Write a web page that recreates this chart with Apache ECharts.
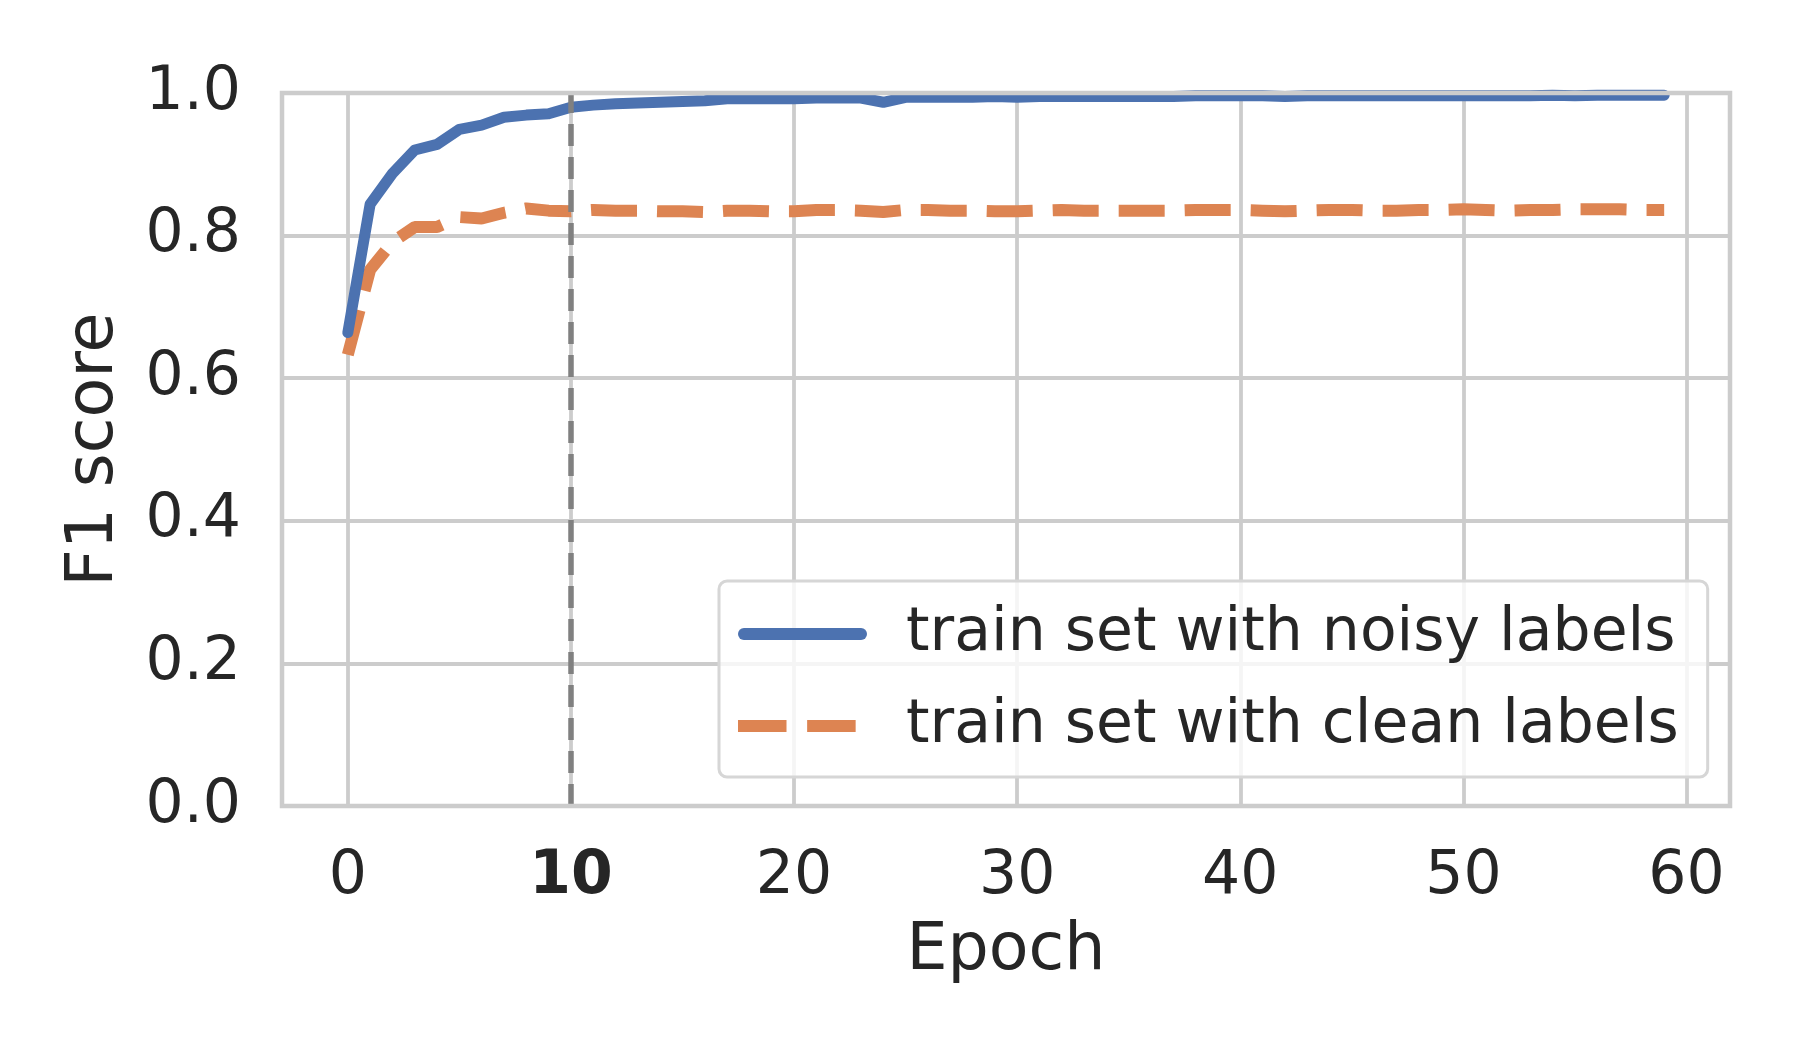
<!DOCTYPE html>
<html>
<head>
<meta charset="utf-8">
<script src="https://cdn.jsdelivr.net/npm/echarts@6/dist/echarts.min.js"></script>
<style>
  html, body { margin: 0; padding: 0; background: #fff; }
  #chart { width: 1800px; height: 1050px; }
</style>
</head>
<body>
<div id="chart"></div>
<script>
// F1 per epoch
const noisy = [
  0.664, 0.844, 0.887, 0.920, 0.928, 0.949, 0.955, 0.966, 0.969, 0.971,
  0.980, 0.983, 0.985, 0.986, 0.987, 0.988, 0.989, 0.992, 0.992, 0.992,
  0.992, 0.993, 0.993, 0.993, 0.987, 0.994, 0.994, 0.994, 0.994, 0.995,
  0.994, 0.995, 0.995, 0.995, 0.995, 0.995, 0.995, 0.995, 0.996, 0.996,
  0.996, 0.996, 0.995, 0.996, 0.996, 0.996, 0.996, 0.996, 0.996, 0.996,
  0.996, 0.996, 0.996, 0.996, 0.997, 0.996, 0.997, 0.997, 0.997, 0.997
];
const clean = [
  0.633, 0.752, 0.791, 0.812, 0.812, 0.826, 0.824, 0.832, 0.838, 0.835,
  0.834, 0.836, 0.835, 0.835, 0.834, 0.834, 0.833, 0.835, 0.835, 0.834,
  0.834, 0.836, 0.836, 0.835, 0.833, 0.836, 0.836, 0.835, 0.835, 0.834,
  0.834, 0.835, 0.836, 0.835, 0.835, 0.835, 0.835, 0.835, 0.836, 0.836,
  0.836, 0.835, 0.834, 0.835, 0.836, 0.836, 0.835, 0.835, 0.836, 0.836,
  0.837, 0.836, 0.835, 0.836, 0.836, 0.837, 0.837, 0.837, 0.836, 0.836
];
const xTicks = [0, 10, 20, 30, 40, 50, 60];
const markEpoch = 10;
const seriesNames = ['train set with noisy labels', 'train set with clean labels'];

const chart = echarts.init(document.getElementById('chart'));
const font = 'DejaVu Sans';
const textColor = '#262626';
const blue = '#4c72b0', orange = '#dd8452';
const gridColor = '#cccccc';

// plot frame (px)
const plot = { left: 282, top: 93, right: 70, bottom: 244 };
const plotW = 1800 - plot.left - plot.right;
const plotH = 1050 - plot.top - plot.bottom;

// legend icons: solid bar and two dashes (last tiny bit keeps the box width)
const solidIcon = 'path://M6,0 h119 a6,6 0 0 1 0,12 h-119 a6,6 0 0 1 0,-12 z';
const dashIcon = 'path://M4,0 h47 v12 h-47 z M71,0 h47 v12 h-47 z M128.9,0 h0.1 v0.1 h-0.1 z';

const option = {
  animation: false,
  backgroundColor: '#fff',
  grid: { left: plot.left, top: plot.top, right: plot.right, bottom: plot.bottom },
  // frame drawn above the lines, like the axes spines
  graphic: [{
    type: 'rect',
    z: 100,
    silent: true,
    shape: { x: plot.left, y: plot.top, width: plotW, height: plotH },
    style: { fill: null, stroke: gridColor, lineWidth: 4.5 }
  }],
  xAxis: {
    type: 'value',
    min: -2.95,
    max: 61.95,
    name: 'Epoch',
    nameLocation: 'middle',
    nameGap: 114,
    nameTextStyle: { fontFamily: font, fontSize: 65, color: textColor },
    axisLine: { show: false },
    axisTick: { show: false, customValues: xTicks },
    axisLabel: {
      customValues: xTicks,
      margin: 41,
      fontFamily: font, fontSize: 60, color: textColor,
      formatter: function (v) { return v === markEpoch ? '{b|' + v + '}' : String(v); },
      rich: { b: { fontFamily: font, fontSize: 60, fontWeight: 'bold', color: textColor } }
    },
    splitLine: { show: true, lineStyle: { color: gridColor, width: 3.8 } }
  },
  yAxis: {
    type: 'value',
    min: 0, max: 1, interval: 0.2,
    name: 'F1 score',
    nameLocation: 'middle',
    nameGap: 154,
    nameTextStyle: { fontFamily: font, fontSize: 65, color: textColor },
    axisLine: { show: false },
    axisTick: { show: false },
    axisLabel: {
      margin: 41,
      fontFamily: font, fontSize: 60, color: textColor,
      formatter: function (v) { return v.toFixed(1); }
    },
    splitLine: { show: true, lineStyle: { color: gridColor, width: 3.8 } }
  },
  legend: {
    orient: 'vertical',
    left: 719, top: 581,
    padding: [18, 29, 16, 19],
    itemGap: 22,
    itemWidth: 129,
    itemHeight: 12,
    symbolKeepAspect: false,
    backgroundColor: 'rgba(255,255,255,0.8)',
    borderColor: '#d6d6d6', borderWidth: 3, borderRadius: 8,
    textStyle: { fontFamily: font, fontSize: 60, color: textColor, lineHeight: 70, padding: [0, 0, 0, 34] },
    data: [
      { name: seriesNames[0], icon: solidIcon, itemStyle: { color: blue } },
      { name: seriesNames[1], icon: dashIcon, itemStyle: { color: orange } }
    ]
  },
  series: [
    {
      name: seriesNames[0],
      type: 'line',
      symbol: 'none',
      data: noisy.map(function (v, i) { return [i, v]; }),
      lineStyle: { color: blue, width: 11, cap: 'round', join: 'round' },
      itemStyle: { color: blue },
      z: 3
    },
    {
      name: seriesNames[1],
      type: 'line',
      symbol: 'none',
      data: clean.map(function (v, i) { return [i, v]; }),
      lineStyle: { color: orange, width: 12, type: [46, 20], cap: 'butt' },
      itemStyle: { color: orange },
      z: 2,
      markLine: {
        silent: true,
        symbol: 'none',
        label: { show: false },
        lineStyle: { color: '#808080', width: 5.5, type: [22, 11] },
        data: [{ xAxis: markEpoch }],
        z: 4
      }
    }
  ]
};
chart.setOption(option);
</script>
</body>
</html>
